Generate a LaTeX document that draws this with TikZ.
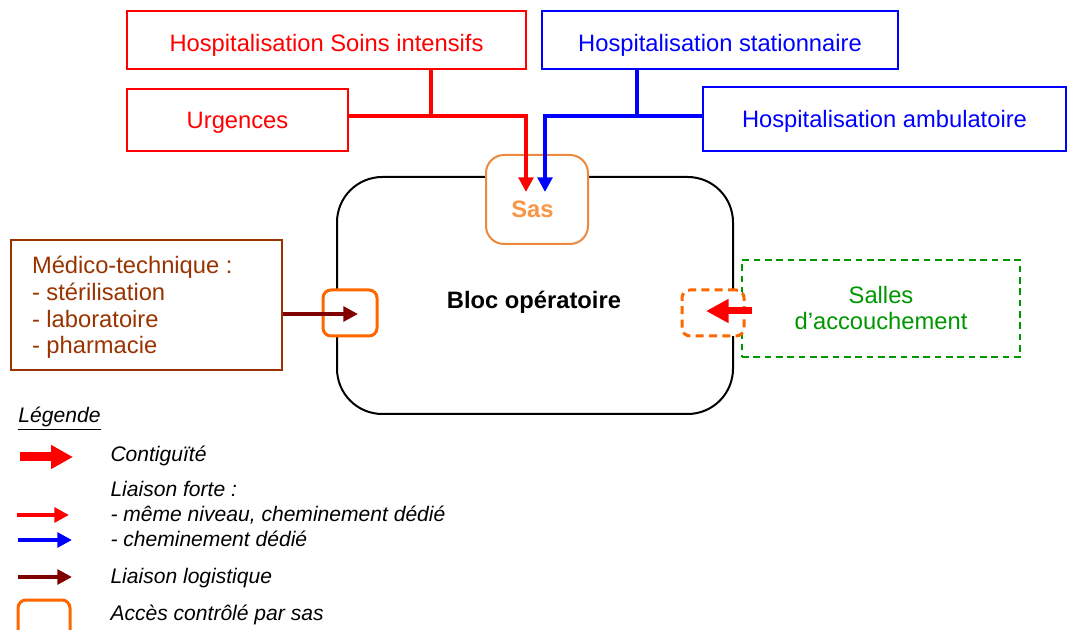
\documentclass[tikz,border=0pt]{standalone}
\usepackage{fontspec}
\setmainfont{Liberation Sans}
\usetikzlibrary{arrows.meta}

\definecolor{rougeH}{RGB}{255,0,0}
\definecolor{bleuH}{RGB}{0,0,255}
\definecolor{brunM}{RGB}{153,51,0}
\definecolor{brunF}{RGB}{128,0,0}
\definecolor{orangeS}{RGB}{255,102,0}
\definecolor{orangeSas}{RGB}{237,137,62}
\definecolor{orangeTxt}{RGB}{247,150,70}
\definecolor{vertS}{RGB}{0,150,0}

\tikzset{every picture/.style={line width=0.75pt}}
\tikzset{
  txt/.style={font=\fontsize{17.8}{20}\selectfont},
  onetxt/.style={txt, text height=12.7pt, text depth=0pt},
  haut/.style={text height=17.2pt},
  leg/.style={font=\fontsize{15.8}{18}\selectfont\itshape, anchor=base west, inner sep=0pt},
  redbox/.style={draw=rougeH, line width=1.1pt, text=rougeH, onetxt, inner sep=0pt},
  bluebox/.style={draw=bleuH, line width=1.1pt, text=bleuH, onetxt, inner sep=0pt},
  sasbox/.style={draw=orangeS, fill=white, line width=2.25pt, rounded corners=6pt, inner sep=0pt},
  lien/.style={line width=3pt},
  liaison/.style={line width=3pt, -{Triangle[length=11pt,width=11pt]}},
  contig/.style={rougeH, line width=5.25pt, -{Triangle[length=17pt,width=17pt]}},
}

\begin{document}
\begin{tikzpicture}[x=0.75pt,y=0.75pt,yscale=-1,xscale=1]
\useasboundingbox (0,0) rectangle (1067,630);

%Rounded Rect : bloc
\node [draw, line width=1.5pt, rounded corners=34pt, minimum width=297pt, minimum height=177.75pt] (bloc) at (535,295.5) {};
\node [onetxt, font=\fontsize{17.8}{20}\selectfont\bfseries] (bloctxt) at (534,300) {Bloc opératoire};

%Rectangles : hospitalisation
\node [redbox, haut, minimum width=299.25pt, minimum height=43.5pt] (hsi) at (326.5,40) {Hospitalisation Soins intensifs};
\node [redbox, minimum width=165.75pt, minimum height=46.5pt] (urg) at (237.5,120) {Urgences};
\node [bluebox, haut, minimum width=267pt, minimum height=43.5pt] (hst) at (720,40) {Hospitalisation stationnaire};
\node [bluebox, minimum width=272.25pt, minimum height=48pt] (hamb) at (884.5,119) {Hospitalisation ambulatoire};

%Rounded Rect : sas
\node [draw=orangeSas, fill=white, line width=1.5pt, rounded corners=13.5pt, minimum width=76.5pt, minimum height=66.75pt] (sas) at (537,199.5) {};
\node [onetxt, font=\fontsize{17.8}{20}\selectfont\bfseries, text=orangeTxt] (sastxt) at (532.5,209) {Sas};

%Rectangle : medico-technique
\node [draw=brunM, line width=1.1pt, minimum width=203.25pt, minimum height=97.5pt] (med) at (146.5,305) {};
\node [txt, text=brunM, align=left, anchor=west, inner sep=0pt] (medtxt) at (31.5,307.5) {Médico-technique :\\- stérilisation\\- laboratoire\\- pharmacie};

%Rectangle : salles
\node [draw=vertS, line width=1.5pt, dash pattern={on 5pt off 3.5pt}, minimum width=208.5pt, minimum height=72.75pt] (sad) at (881,308.5) {};
\node [txt, text=vertS, align=center, inner sep=0pt] (sadtxt) at (881,308) {Salles\\d’accouchement};

%Rounded Rect : acces
\node [sasbox, minimum width=40.5pt, minimum height=34.5pt] (acg) at (350,313) {};
\node [sasbox, dash pattern={on 6pt off 4pt}, minimum width=46.5pt, minimum height=34.5pt] (acd) at (713,313) {};

%Straight Lines
\coordinate (rj) at (431,116);
\coordinate (rtip) at (526,192);
\coordinate (bj) at (637,116);
\coordinate (btip) at (545,192);
\coordinate (mtip) at (358,314);
\coordinate (ctail) at (752,311);
\coordinate (ctip) at (706,311);
\draw [lien, rougeH] (hsi.south -| rj) -- (rj);
\draw [liaison, rougeH] (urg.east |- rj) -- (rtip |- rj) -- (rtip);
\draw [lien, bleuH] (hst.south -| bj) -- (bj);
\draw [liaison, bleuH] (hamb.west |- bj) -- (btip |- bj) -- (btip);
\draw [liaison, brunF] (med.east |- mtip) -- (mtip);
\draw [contig] (ctail) -- (ctip);

% Legende
\node [leg] (legtitre) at (18,423) {\underline{Légende}};
\coordinate (l1a) at (20,457); \coordinate (l1b) at (73,457);
\coordinate (l2a) at (17,515); \coordinate (l2b) at (69,515);
\coordinate (l3a) at (18,540); \coordinate (l3b) at (72,540);
\coordinate (l4a) at (18,577); \coordinate (l4b) at (72,577);
\draw [rougeH, line width=6.75pt, -{Triangle[length=16.5pt,width=17pt]}] (l1a) -- (l1b);
\draw [liaison, rougeH] (l2a) -- (l2b);
\draw [liaison, bleuH] (l3a) -- (l3b);
\draw [liaison, brunF] (l4a) -- (l4b);
\node [sasbox, minimum width=39pt, minimum height=36pt] (legsas) at (44,624) {};
\node [leg] (leg1) at (110,462) {Contiguïté};
\node [leg] (leg2) at (110,497) {Liaison forte :};
\node [leg] (leg3) at (110,521.7) {- même niveau, cheminement dédié};
\node [leg] (leg4) at (110,546.7) {- cheminement dédié};
\node [leg] (leg5) at (110,583) {Liaison logistique};
\node [leg] (leg6) at (110,620) {Accès contrôlé par sas};

\end{tikzpicture}
\end{document}
